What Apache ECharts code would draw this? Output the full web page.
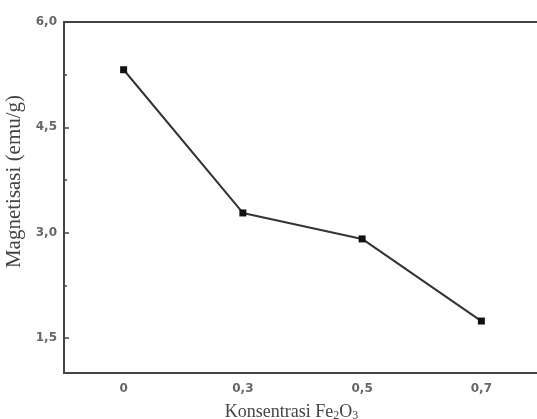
<!DOCTYPE html>
<html>
<head>
<meta charset="utf-8">
<script src="https://cdn.jsdelivr.net/npm/echarts@6/dist/echarts.min.js"></script>
<style>
  html, body { margin: 0; padding: 0; background: #fff; }
  #chart { width: 537px; height: 419px; }
</style>
</head>
<body>
<div id="chart"></div>
<script>
// data
const konsentrasi = ["0", "0,3", "0,5", "0,7"];
const magnetisasi = [5.32, 3.28, 2.91, 1.74];
const yMajorTicks = [1.5, 3, 4.5, 6];
const yMinorTicks = [2.25, 3.75, 5.25];

const chart = echarts.init(document.getElementById("chart"));

const axisColor = "#444";
const labelColor = "#666";
const nameColor = "#444";
const serif = "Liberation Serif";
const sans = "DejaVu Sans";

chart.setOption({
  backgroundColor: "#fff",
  animation: false,
  grid: {
    left: 64,
    width: 477,
    top: 22,
    bottom: 46,
    outerBoundsMode: "none",
    containLabel: false,
    show: true,
    borderColor: axisColor,
    borderWidth: 2,
  },
  xAxis: [
    {
      type: "category",
      data: konsentrasi,
      name: "Konsentrasi Fe{s|2}O{s|3}",
      nameLocation: "middle",
      nameGap: 30,
      nameTextStyle: {
        color: nameColor,
        fontFamily: serif,
        fontSize: 18,
        padding: [0, 22, 0, 0],
        rich: {
          s: { fontSize: 12, verticalAlign: "bottom", padding: [7, 0, 0, 0], color: nameColor, fontFamily: serif },
        },
      },
      axisLine: { lineStyle: { color: axisColor, width: 2 } },
      axisTick: { inside: true, alignWithLabel: true, length: 5, lineStyle: { color: axisColor, width: 1.5 } },
      axisLabel: { color: labelColor, fontFamily: sans, fontWeight: "bold", fontSize: 12, margin: 10 },
      splitLine: { show: false },
    },
    {
      type: "category",
      data: konsentrasi,
      position: "bottom",
      axisLine: { show: false },
      axisTick: { inside: true, length: 3, lineStyle: { color: axisColor, width: 1.5 } },
      axisLabel: { show: false },
      splitLine: { show: false },
    },
  ],
  yAxis: [
    {
      type: "value",
      min: 1,
      max: 6,
      name: "Magnetisasi (emu/g)",
      nameLocation: "middle",
      nameGap: 33,
      nameTextStyle: { color: nameColor, fontFamily: serif, fontSize: 21, padding: [0, 0, 0, 32] },
      axisLine: { show: true, lineStyle: { color: axisColor, width: 2 } },
      axisTick: { show: true, inside: true, length: 5, customValues: yMajorTicks, lineStyle: { color: axisColor, width: 1.5 } },
      axisLabel: {
        color: labelColor,
        fontFamily: sans,
        fontWeight: "bold",
        fontSize: 12,
        margin: 7,
        customValues: yMajorTicks,
        formatter: (v) => v.toFixed(1).replace(".", ","),
      },
      splitLine: { show: false },
    },
    {
      type: "value",
      min: 1,
      max: 6,
      position: "left",
      axisLine: { show: false },
      axisTick: { show: true, inside: true, length: 3, customValues: yMinorTicks, lineStyle: { color: axisColor, width: 1.5 } },
      axisLabel: { show: false },
      splitLine: { show: false },
    },
  ],
  series: [
    {
      type: "line",
      data: magnetisasi,
      symbol: "rect",
      symbolSize: 7,
      itemStyle: { color: "#111" },
      lineStyle: { color: "#333", width: 2 },
    },
  ],
});
</script>
</body>
</html>
